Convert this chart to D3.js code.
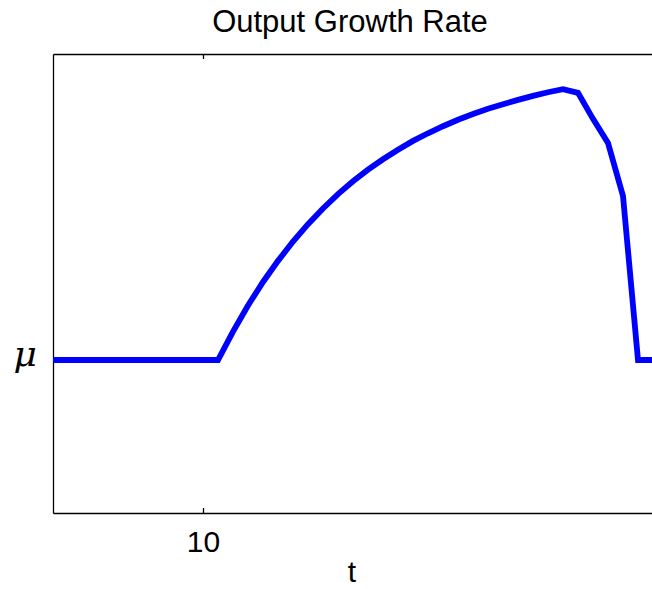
<!DOCTYPE html>
<html>
<head>
<meta charset="utf-8">
<script src="https://cdn.jsdelivr.net/npm/d3@7"></script>
<style>
  html, body { margin: 0; padding: 0; background: #fff; }
  svg { display: block; }
  .axis text { font-family: "Liberation Sans", Arial, Helvetica, sans-serif; font-size: 30px; fill: #000; }
  .axis path, .axis line { stroke: #000; stroke-width: 1.3; }
</style>
</head>
<body>
<svg id="chart" width="652" height="589"></svg>
<script>
// Time periods and output growth (deviation from the steady-state rate mu)
const periods = [0, 1, 2, 3, 4, 5, 6, 7, 8, 9, 10, 11, 12, 13, 14, 15, 16, 17, 18, 19, 20,
                 21, 22, 23, 24, 25, 26, 27, 28, 29, 30, 31, 32, 33, 34, 35, 36, 37, 38, 39, 40];
const growth = [0, 0, 0, 0, 0, 0, 0, 0, 0, 0, 0, 0,
                0.093, 0.178, 0.255, 0.324, 0.387, 0.444, 0.495, 0.542, 0.584,
                0.622, 0.656, 0.687, 0.716, 0.741, 0.764, 0.785, 0.804, 0.821,
                0.836, 0.850, 0.863, 0.875, 0.885,
                0.873, 0.788, 0.709, 0.536, 0, 0];
const xTickValues = [10];
const xTickLabels = ["10"];
const yTickValues = [0];
const yTickLabels = ["\u03BC"];
const titleText = "Output Growth Rate";
const xLabelText = "t";

const svg = d3.select("#chart");
const plotLeft = 53, plotRight = 653, plotTop = 54, plotBottom = 513;

const x = d3.scaleLinear().domain([0, 40]).range([plotLeft, plotRight]);
const y = d3.scaleLinear().domain([-0.5, 1.0]).range([plotBottom, plotTop]);

// Box axes with inward ticks
const xBottom = d3.axisBottom(x).tickValues(xTickValues)
  .tickFormat((d, i) => xTickLabels[i]).tickSizeInner(-5).tickSizeOuter(0).tickPadding(18);
svg.append("g").attr("class", "axis").attr("transform", `translate(0,${plotBottom})`).call(xBottom);

const xTop = d3.axisTop(x).tickValues(xTickValues).tickFormat("")
  .tickSizeInner(-5).tickSizeOuter(0);
svg.append("g").attr("class", "axis").attr("transform", `translate(0,${plotTop})`).call(xTop);

const yLeft = d3.axisLeft(y).tickValues(yTickValues)
  .tickFormat((d, i) => yTickLabels[i]).tickSizeInner(-5).tickSizeOuter(0).tickPadding(16);
const gy = svg.append("g").attr("class", "axis").attr("transform", `translate(${plotLeft},0)`).call(yLeft);
gy.selectAll("text")
  .style("font-family", "'DejaVu Serif', 'Liberation Serif', serif")
  .style("font-style", "italic")
  .style("font-size", "36px")
  .attr("dy", "0.15em");

const yRight = d3.axisRight(y).tickValues(yTickValues).tickFormat("")
  .tickSizeInner(-5).tickSizeOuter(0);
svg.append("g").attr("class", "axis").attr("transform", `translate(${plotRight},0)`).call(yRight);

// Growth path
const line = d3.line()
  .x((d, i) => x(periods[i]))
  .y(d => y(d));

svg.append("path")
  .datum(growth)
  .attr("d", line)
  .attr("fill", "none")
  .attr("stroke", "#0000ff")
  .attr("stroke-width", 5.8)
  .attr("stroke-linejoin", "miter");

// Title and axis label
svg.append("text")
  .attr("x", 350).attr("y", 32)
  .attr("text-anchor", "middle")
  .style("font-family", "'Liberation Sans', Arial, Helvetica, sans-serif")
  .style("font-size", "31px")
  .text(titleText);

svg.append("text")
  .attr("x", 352).attr("y", 582)
  .attr("text-anchor", "middle")
  .style("font-family", "'Liberation Sans', Arial, Helvetica, sans-serif")
  .style("font-size", "30px")
  .text(xLabelText);
</script>
</body>
</html>
